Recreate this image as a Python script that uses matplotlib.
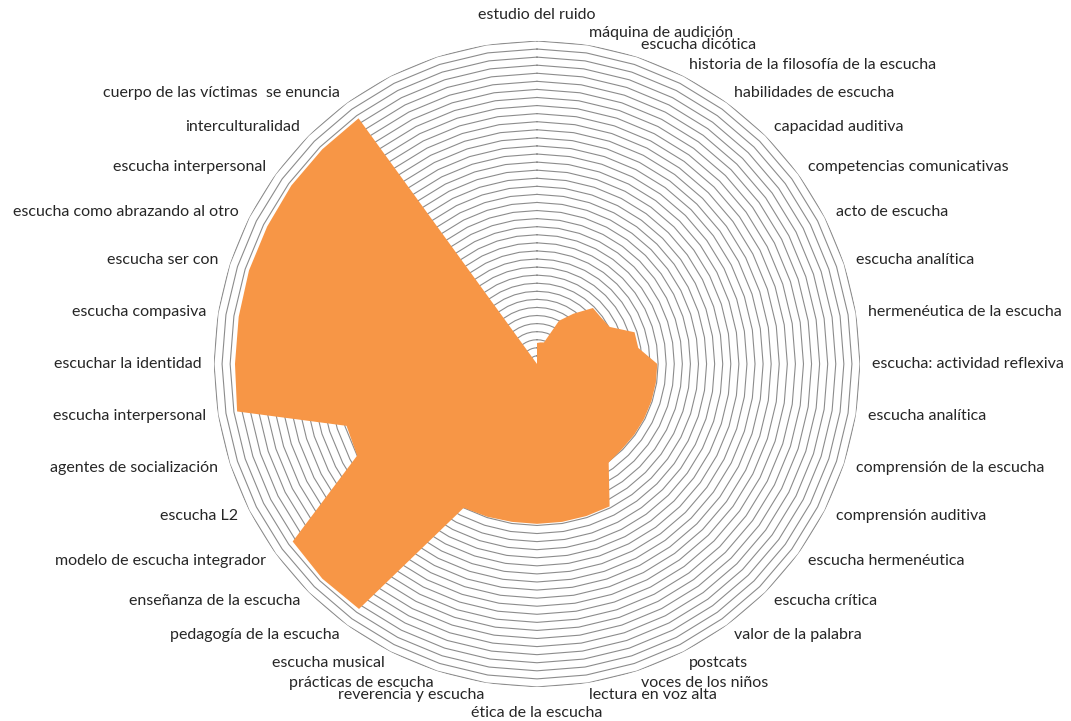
import numpy as np
import matplotlib.pyplot as plt

categories = [
    "estudio del ruido", "máquina de audición", "escucha dicótica",
    "historia de la filosofía de la escucha", "habilidades de escucha",
    "capacidad auditiva", "competencias comunicativas", "acto de escucha",
    "escucha analítica", "hermenéutica de la escucha",
    "escucha: actividad reflexiva", "escucha analítica",
    "comprensión de la escucha", "comprensión auditiva",
    "escucha hermenéutica", "escucha crítica", "valor de la palabra",
    "postcats", "voces de los niños", "lectura en voz alta",
    "ética de la escucha", "reverencia y escucha", "prácticas de escucha",
    "escucha musical", "pedagogía de la escucha", "enseñanza de la escucha",
    "modelo de escucha integrador", "escucha L2", "agentes de socialización",
    "escucha interpersonal", "escuchar la identidad", "escucha compasiva",
    "escucha ser con", "escucha como abrazando al otro",
    "escucha interpersonal", "interculturalidad",
    "cuerpo de las víctimas  se enuncia", "", "", "",
]
values = [
    2.6, 2.7, 2.8, 6.0, 7.7, 9.8, 9.8, 10.1, 12.7, 12.7,
    14.9, 14.9, 14.9, 14.9, 14.9, 14.9, 15.1, 19.8, 19.8, 19.8,
    19.8, 19.8, 19.9, 20.0, 37.5, 37.6, 37.4, 25.0, 24.8, 37.6,
    37.4, 37.4, 37.5, 37.5, 37.6, 37.6, 37.6, 0, 0, 0,
]
rings = np.arange(1, 41)

n = len(categories)
angles = np.arange(n) * 2 * np.pi / n
closed = np.append(angles, angles[0])

fig = plt.figure(figsize=(10.71, 7.21), dpi=100)
ax = fig.add_axes([0.1998, 0.0472, 0.6032, 0.896], projection='polar')
ax.set_theta_zero_location('N')
ax.set_theta_direction(-1)
ax.set_ylim(0, 40)
ax.grid(False)
ax.set_xticks([])
ax.set_yticks([])
ax.spines['polar'].set_visible(False)

for r in rings:
    ax.plot(closed, [r] * len(closed), color='#8c8c8c', lw=0.8, zorder=1)

ax.fill(closed, np.append(values, values[0]), color='#F79646', lw=0, zorder=2)

for ang, lab in zip(angles, categories):
    deg = np.degrees(ang)
    rad = 41.5
    if np.isclose(deg, 0):
        ha, va, rad = 'center', 'bottom', 42.4
    elif np.isclose(deg, 180):
        ha, va, rad = 'center', 'top', 42.4
    elif deg < 180:
        ha, va = 'left', 'center'
    else:
        ha, va = 'right', 'center'
    ax.text(ang, rad, lab, ha=ha, va=va, fontsize=11.5, family='Lato',
            color='#262626')

fig.savefig('out.png', dpi=100)
